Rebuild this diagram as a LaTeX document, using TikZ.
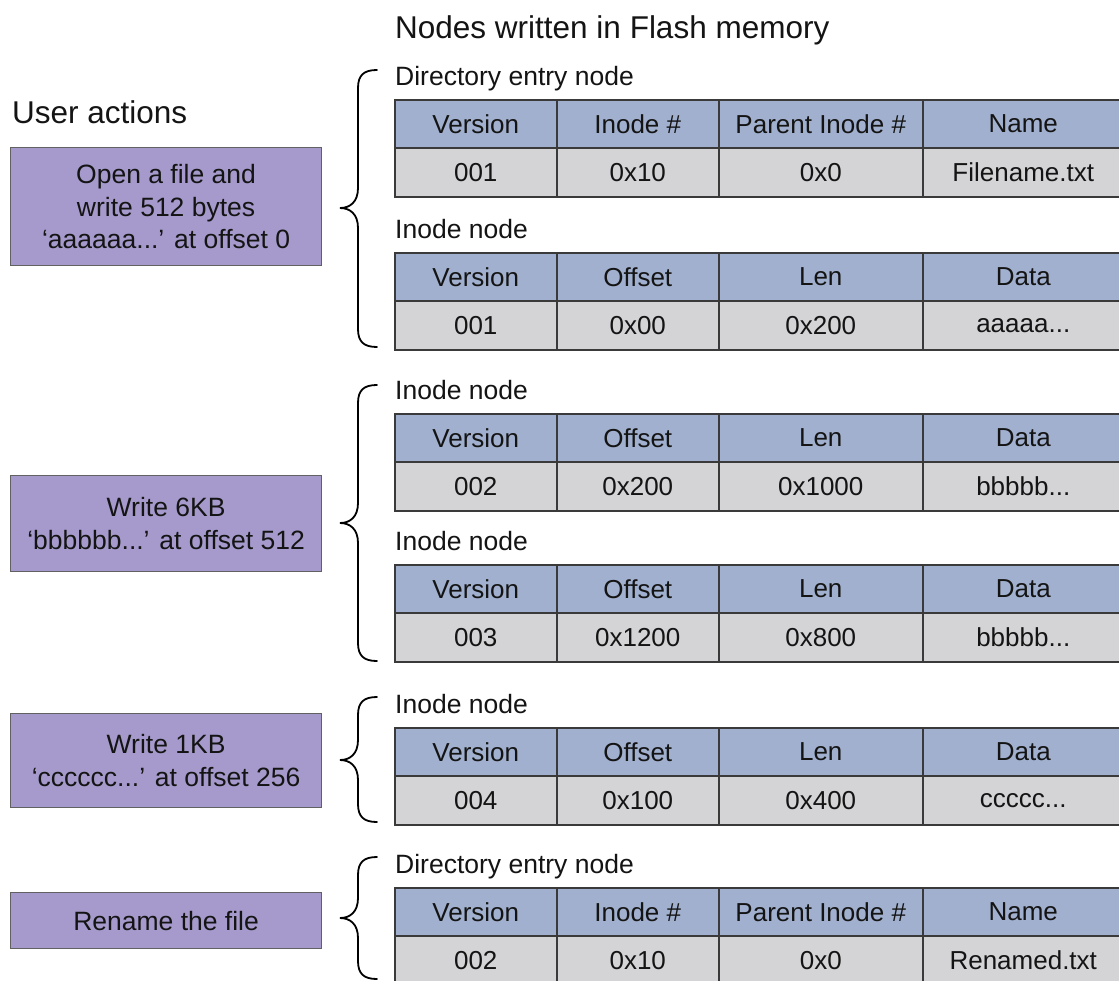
\documentclass[tikz,border=0pt]{standalone}
\usepackage{fontspec}
\setmainfont{Liberation Sans}
\definecolor{hdr}{RGB}{160,176,206}
\definecolor{dat}{RGB}{212,212,215}
\definecolor{act}{RGB}{166,154,204}
\definecolor{bord}{RGB}{58,58,58}
\definecolor{txt}{RGB}{20,20,20}
\tikzset{
  cell/.style={draw=bord, line width=1.5pt, inner sep=0pt, anchor=north west,
    text=txt, font=\fontsize{26}{30}\selectfont},
  hcell/.style={cell, fill=hdr, minimum height=48pt},
  dcell/.style={cell, fill=dat, minimum height=49pt},
  actbox/.style={draw=bord!80, line width=1.2pt, fill=act, anchor=north west,
    minimum width=311pt, align=center, inner sep=0pt, text=txt,
    font=\fontsize{26.5}{32.5}\selectfont},
  lbl/.style={anchor=base west, inner sep=0pt, text=txt, font=\fontsize{26.5}{30}\selectfont},
  ttl/.style={anchor=base west, inner sep=0pt, text=txt, font=\fontsize{31.5}{36}\selectfont},
  bracepath/.style={draw=black, line width=1.8pt, line cap=round}
}
\newcommand\hrow[6]{%
  \node[hcell, minimum width=162pt] (#1a) at (394,#2) {#3};
  \node[hcell, minimum width=162pt] (#1b) at (556,#2) {#4};
  \node[hcell, minimum width=204pt] (#1c) at (718,#2) {#5};
  \node[hcell, minimum width=201pt] (#1d) at (922,#2) {#6};
}
\newcommand\drow[6]{%
  \node[dcell, minimum width=162pt] (#1a) at (394,#2) {#3};
  \node[dcell, minimum width=162pt] (#1b) at (556,#2) {#4};
  \node[dcell, minimum width=204pt] (#1c) at (718,#2) {#5};
  \node[dcell, minimum width=201pt] (#1d) at (922,#2) {#6};
}
\newcommand\fbrace[3]{%
  \draw[bracepath] (377,#1) .. controls (364,#1) and (358,#1+5) .. (358,#1+18)
    -- (358,#2-20) .. controls (358,#2-6) and (350,#2) .. (340,#2)
    .. controls (350,#2) and (358,#2+6) .. (358,#2+20)
    -- (358,#3-18) .. controls (358,#3-5) and (364,#3) .. (377,#3);
}
\begin{document}
\begin{tikzpicture}[x=1pt,y=-1pt]
\clip (0,0) rectangle (1119,980);
\fill[white] (0,0) rectangle (1119,980);

% titles
\node[ttl] (title) at (395,38) {Nodes written in Flash memory};
\node[ttl] (user) at (12,123) {User actions};

% user actions
\node[actbox, minimum height=118pt] (a1) at (10,147) {Open a file and\\write 512 bytes\\`aaaaaa...' at offset 0};
\node[actbox, minimum height=96pt] (a2) at (10,475) {Write 6KB\\`bbbbbb...' at offset 512};
\node[actbox, minimum height=94pt] (a3) at (10,713) {Write 1KB\\`cccccc...' at offset 256};
\node[actbox, minimum height=56pt] (a4) at (10,892) {Rename the file};

% group 1
\node[lbl] (l1) at (395,85) {Directory entry node};
\hrow{ta}{99}{Version}{Inode \#}{Parent Inode \#}{Name}
\drow{tA}{147}{001}{0x10}{0x0}{Filename.txt}
\node[lbl] (l2) at (395,238) {Inode node};
\hrow{tb}{252}{Version}{Offset}{Len}{Data}
\drow{tB}{300}{001}{0x00}{0x200}{aaaaa...}
\fbrace{70}{208}{347}

% group 2
\node[lbl] (l3) at (395,399) {Inode node};
\hrow{tc}{413}{Version}{Offset}{Len}{Data}
\drow{tC}{461}{002}{0x200}{0x1000}{bbbbb...}
\node[lbl] (l4) at (395,550) {Inode node};
\hrow{td}{564}{Version}{Offset}{Len}{Data}
\drow{tD}{612}{003}{0x1200}{0x800}{bbbbb...}
\fbrace{385}{523}{661}

% group 3
\node[lbl] (l5) at (395,713) {Inode node};
\hrow{te}{727}{Version}{Offset}{Len}{Data}
\drow{tE}{775}{004}{0x100}{0x400}{ccccc...}
\fbrace{697}{760}{822}

% group 4
\node[lbl] (l6) at (395,873) {Directory entry node};
\hrow{tf}{887}{Version}{Inode \#}{Parent Inode \#}{Name}
\drow{tF}{935}{002}{0x10}{0x0}{Renamed.txt}
\fbrace{857}{918}{979}
\end{tikzpicture}
\end{document}
